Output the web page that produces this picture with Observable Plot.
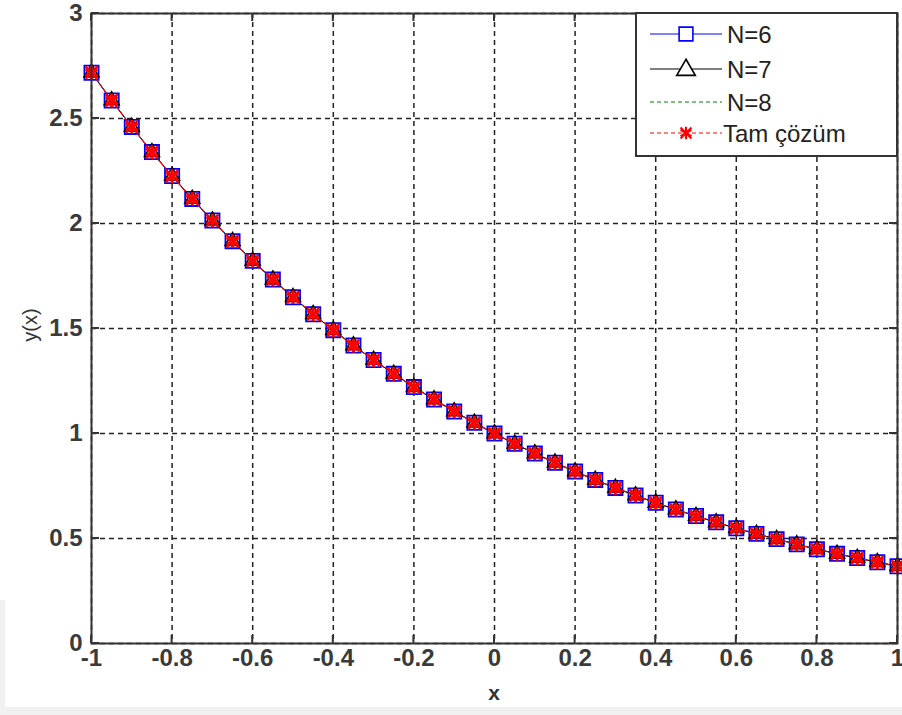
<!DOCTYPE html>
<html>
<head>
<meta charset="utf-8">
<script src="https://cdn.jsdelivr.net/npm/d3@7"></script>
<script src="https://cdn.jsdelivr.net/npm/@observablehq/plot@0.6"></script>
<style>
  html, body { margin: 0; padding: 0; background: #fff; }
  #chart { width: 902px; height: 715px; }
  #chart g[aria-label$="tick label"],
  #chart g[aria-label$="tick label"] text {
    font-size: 24px !important;
    font-weight: bold !important;
    fill: #3a3a3a;
  }
</style>
</head>
<body>
<div id="chart"></div>
<script>
// Collocation nodes on [-1, 1]
const xs = [-1, -0.95, -0.9, -0.85, -0.8, -0.75, -0.7, -0.65, -0.6, -0.55, -0.5,
  -0.45, -0.4, -0.35, -0.3, -0.25, -0.2, -0.15, -0.1, -0.05, 0,
  0.05, 0.1, 0.15, 0.2, 0.25, 0.3, 0.35, 0.4, 0.45, 0.5,
  0.55, 0.6, 0.65, 0.7, 0.75, 0.8, 0.85, 0.9, 0.95, 1];

// Exact solution values y(x)
const yExact = [2.718, 2.586, 2.460, 2.340, 2.226, 2.117, 2.014, 1.916, 1.822, 1.733, 1.649,
  1.568, 1.492, 1.419, 1.350, 1.284, 1.221, 1.162, 1.105, 1.051, 1.000,
  0.951, 0.905, 0.861, 0.819, 0.779, 0.741, 0.705, 0.670, 0.638, 0.607,
  0.577, 0.549, 0.522, 0.497, 0.472, 0.449, 0.427, 0.407, 0.387, 0.368];

// Approximate solutions (coincide with the exact one at plotting precision)
const yN6 = yExact.slice();
const yN7 = yExact.slice();
const yN8 = yExact.slice();

const xTicks = [-1, -0.8, -0.6, -0.4, -0.2, 0, 0.2, 0.4, 0.6, 0.8, 1];
const yTicks = [0, 0.5, 1, 1.5, 2, 2.5, 3];

const seriesNames = ["N=6", "N=7", "N=8", "Tam çözüm"];

const rows = (ys) => xs.map((x, i) => ({x, y: ys[i]}));
const d6 = rows(yN6), d7 = rows(yN7), d8 = rows(yN8), dE = rows(yExact);

const font = "'Liberation Sans', Arial, sans-serif";
const gridStyle = {stroke: "#222", strokeOpacity: 1, strokeWidth: 1.5, strokeDasharray: "5,4"};

const chart = Plot.plot({
  width: 902,
  height: 715,
  marginLeft: 91,
  marginRight: 5,
  marginTop: 13,
  marginBottom: 72,
  style: {fontFamily: font, background: "#fff", color: "#3a3a3a"},
  x: {domain: [-1, 1]},
  y: {domain: [0, 3]},
  marks: [
    Plot.gridX(xTicks, gridStyle),
    Plot.gridY(yTicks, gridStyle),
    Plot.axisX(xTicks, {tickSize: 0, tickPadding: 5, tickFormat: d => String(d), label: null}),
    Plot.axisY(yTicks, {tickSize: 0, tickPadding: 9, tickFormat: d => String(d), label: null}),
    // N=6
    Plot.line(d6, {x: "x", y: "y", stroke: "#0000ff", strokeWidth: 1}),
    Plot.dot(d6, {x: "x", y: "y", symbol: "square", r: 8, stroke: "#0000ff", strokeWidth: 1.8, fill: "none"}),
    // N=7
    Plot.line(d7, {x: "x", y: "y", stroke: "#000", strokeWidth: 1}),
    Plot.dot(d7, {x: "x", y: "y", symbol: "triangle", r: 5.5, stroke: "#000", strokeWidth: 1.6, fill: "none"}),
    // N=8
    Plot.line(d8, {x: "x", y: "y", stroke: "#008000", strokeWidth: 1, strokeDasharray: "4,3"}),
    // Exact solution
    Plot.line(dE, {x: "x", y: "y", stroke: "#ff0000", strokeWidth: 1.2, strokeDasharray: "4,3"}),
    Plot.dot(dE, {x: "x", y: "y", symbol: "asterisk", r: 6.5, stroke: "#ff0000", strokeWidth: 3}),
    Plot.dot(dE, {x: "x", y: "y", symbol: "times", r: 5.5, stroke: "#ff0000", strokeWidth: 2.5}),
    Plot.frame({stroke: "#333", strokeWidth: 2})
  ]
});

document.getElementById("chart").appendChild(chart);

const svg = d3.select(chart);
const sx = chart.scale("x"), sy = chart.scale("y");
const [x0, x1] = sx.range, [y0, y1] = sy.range;

// Faint page band along the bottom and left edges
svg.insert("g", ":first-child").attr("fill", "#f1f1f1")
  .call(g => {
    g.append("rect").attr("x", 0).attr("y", 707).attr("width", 902).attr("height", 8);
    g.append("rect").attr("x", 0).attr("y", 600).attr("width", 5).attr("height", 115);
  });

// Inward tick marks on all four sides
const tk = svg.append("g").attr("stroke", "#333").attr("stroke-width", 2);
xTicks.forEach(v => {
  const px = sx.apply(v);
  tk.append("line").attr("x1", px).attr("x2", px).attr("y1", y0).attr("y2", y0 - 8);
  tk.append("line").attr("x1", px).attr("x2", px).attr("y1", y1).attr("y2", y1 + 8);
});
yTicks.forEach(v => {
  const py = sy.apply(v);
  tk.append("line").attr("x1", x0).attr("x2", x0 + 8).attr("y1", py).attr("y2", py);
  tk.append("line").attr("x1", x1).attr("x2", x1 - 8).attr("y1", py).attr("y2", py);
});

// Axis titles
svg.append("text")
  .attr("x", (x0 + x1) / 2).attr("y", 700)
  .attr("text-anchor", "middle")
  .attr("font-family", font).attr("font-size", 21).attr("font-weight", "bold")
  .attr("fill", "#333")
  .text("x");
svg.append("text")
  .attr("transform", "translate(37,325) rotate(-90)")
  .attr("text-anchor", "middle")
  .attr("font-family", font).attr("font-size", 20).attr("font-weight", "normal")
  .attr("fill", "#333")
  .text("y(x)");

// Legend box in the upper-right corner
const lg = svg.append("g").attr("font-family", font).attr("font-weight", "normal");
lg.append("rect")
  .attr("x", 636).attr("y", 13).attr("width", 261).attr("height", 143)
  .attr("fill", "#fff").attr("stroke", "#333").attr("stroke-width", 2);

const legendStyles = [
  {color: "#0000ff", dash: null, marker: "square"},
  {color: "#000", dash: null, marker: "triangle"},
  {color: "#008000", dash: "4,3", marker: null},
  {color: "#ff0000", dash: "4,3", marker: "asterisk"}
];
const rowY = [34, 69, 102, 133];
seriesNames.forEach((name, i) => {
  const s = legendStyles[i];
  const y = rowY[i];
  lg.append("line")
    .attr("x1", 650).attr("x2", 722).attr("y1", y).attr("y2", y)
    .attr("stroke", s.color).attr("stroke-width", 1.2)
    .attr("stroke-dasharray", s.dash);
  if (s.marker === "square") {
    lg.append("path").attr("d", d3.symbol(d3.symbolSquare, 190)())
      .attr("transform", `translate(686,${y})`)
      .attr("fill", "#fff").attr("stroke", s.color).attr("stroke-width", 1.6);
  } else if (s.marker === "triangle") {
    lg.append("path").attr("d", d3.symbol(d3.symbolTriangle, 150)())
      .attr("transform", `translate(686,${y + 1})`)
      .attr("fill", "#fff").attr("stroke", s.color).attr("stroke-width", 1.6);
  } else if (s.marker === "asterisk") {
    lg.append("path").attr("d", d3.symbol(d3.symbolAsterisk, 110)())
      .attr("transform", `translate(686,${y})`)
      .attr("fill", "none").attr("stroke", s.color).attr("stroke-width", 2.2);
    lg.append("path").attr("d", d3.symbol(d3.symbolTimes, 80)())
      .attr("transform", `translate(686,${y})`)
      .attr("fill", "none").attr("stroke", s.color).attr("stroke-width", 2);
  }
  lg.append("text")
    .attr("x", i === 3 ? 723 : 727).attr("y", y).attr("dy", "0.36em")
    .attr("text-anchor", "start")
    .attr("font-size", 24).attr("fill", "#222")
    .text(name);
});
</script>
</body>
</html>
